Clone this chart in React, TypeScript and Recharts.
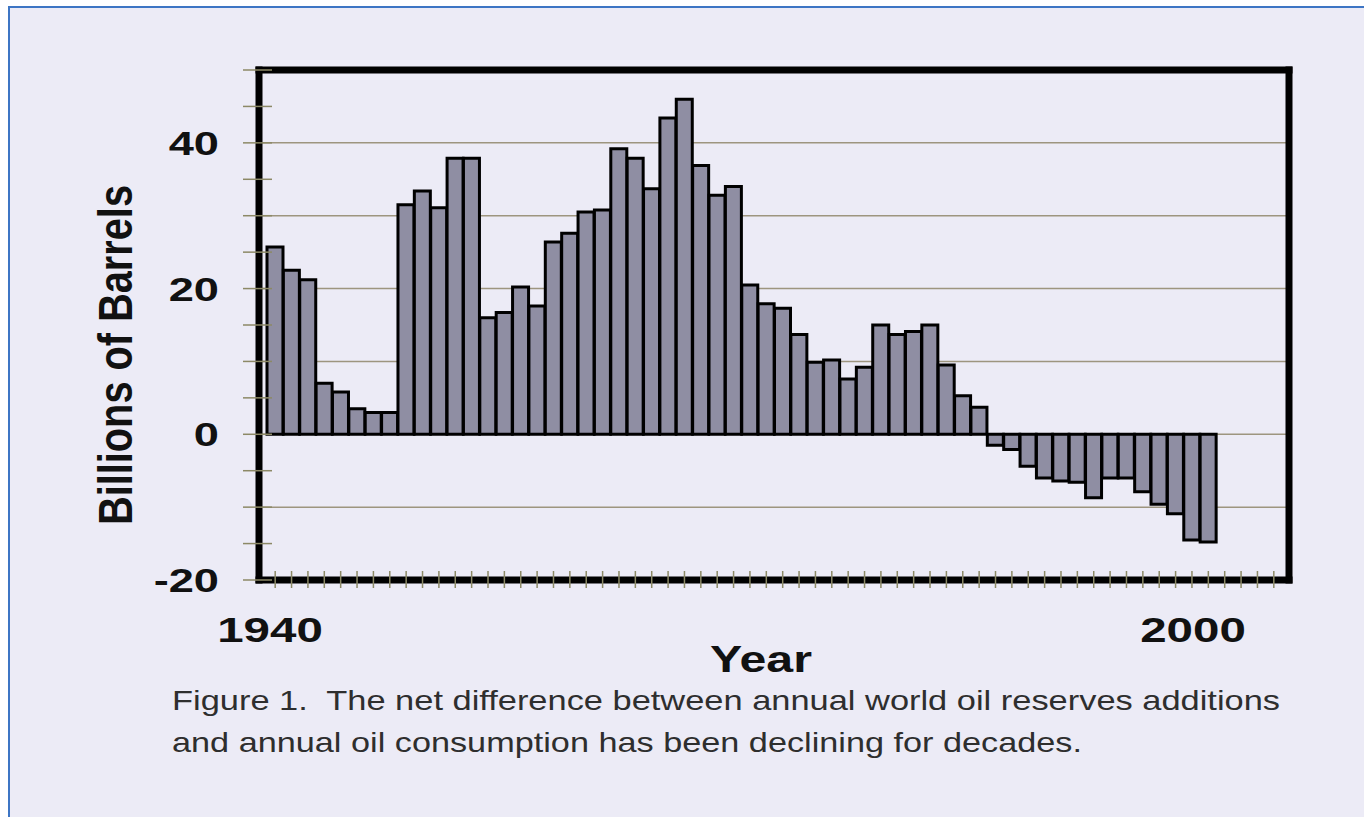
import { Bar, BarChart, CartesianGrid, Label, XAxis, YAxis } from "recharts";

const years = [
    "1940", "1941", "1942", "1943", "1944", "1945", "1946", "1947", "1948", "1949",
    "1950", "1951", "1952", "1953", "1954", "1955", "1956", "1957", "1958", "1959",
    "1960", "1961", "1962", "1963", "1964", "1965", "1966", "1967", "1968", "1969",
    "1970", "1971", "1972", "1973", "1974", "1975", "1976", "1977", "1978", "1979",
    "1980", "1981", "1982", "1983", "1984", "1985", "1986", "1987", "1988", "1989",
    "1990", "1991", "1992", "1993", "1994", "1995", "1996", "1997", "1998", "1999",
    "2000", "2001",
];

// billions of barrels, one per year from 1940 (the last slots are empty)
const netReserves = [
    25.7, 22.5, 21.2, 7.0, 5.8, 3.5, 3.0, 3.0, 31.5, 33.4,
    31.1, 37.9, 37.9, 16.0, 16.7, 20.2, 17.6, 26.4, 27.6, 30.5,
    30.8, 39.2, 37.9, 33.7, 43.4, 46.0, 36.9, 32.8, 34.0, 20.5,
    17.9, 17.3, 13.7, 9.9, 10.2, 7.6, 9.2, 15.0, 13.7, 14.1,
    15.0, 9.5, 5.3, 3.7, -1.5, -2.1, -4.4, -6.0, -6.4, -6.6,
    -8.7, -6.0, -6.0, -7.9, -9.6, -10.9, -14.5, -14.8,
];

const yTicks = [-20, -15, -10, -5, 0, 5, 10, 15, 20, 25, 30, 35, 40, 45, 50];
const yTickLabels = [-20, 0, 20, 40];
const gridValues = [-10, 0, 10, 20, 30, 40];
const yearLabels = [1940, 2000];

const data = years.map((year, i) => ({
    year,
    yearNum: Number(year),
    value: i < netReserves.length ? netReserves[i] : null,
}));

const FONT = "'Liberation Sans', Arial, sans-serif";
const TICK_COLOR = "#8c8966";
const frameLine = { stroke: "#000", strokeWidth: 7, strokeLinecap: "square" as const };

function ValueTick({ x, y, payload }: any) {
    const v = payload.value;
    return (
        <g>
            <line x1={x - 16} x2={x + 13} y1={y} y2={y} stroke={TICK_COLOR} strokeWidth={1.5} />
            {yTickLabels.includes(v) && (
                <text
                    transform={`translate(${x - 40},${y + 12}) scale(1.37,1)`}
                    textAnchor="end"
                    fontFamily={FONT}
                    fontWeight="bold"
                    fontSize={33}
                    fill="#111">
                    {v}
                </text>
            )}
        </g>
    );
}

function YearMark({ x, y }: any) {
    return <line x1={x} x2={x} y1={y - 9} y2={y + 8} stroke={TICK_COLOR} strokeWidth={1.5} />;
}

function YearLabel({ x, y, payload }: any) {
    return (
        <text
            transform={`translate(${x},${y + 42}) scale(1.32,1)`}
            textAnchor="middle"
            fontFamily={FONT}
            fontWeight="bold"
            fontSize={36}
            fill="#111">
            {payload.value}
        </text>
    );
}

function YTitle() {
    return (
        <text
            transform="translate(132,355) scale(1.25,1) rotate(-90)"
            textAnchor="middle"
            fontFamily={FONT}
            fontWeight="bold"
            fontSize={39}
            textLength={340}
            lengthAdjust="spacingAndGlyphs"
            fill="#111">
            Billions of Barrels
        </text>
    );
}

function XTitle() {
    return (
        <text
            x={710}
            y={672}
            fontFamily={FONT}
            fontWeight="bold"
            fontSize={37}
            textLength={102}
            lengthAdjust="spacingAndGlyphs"
            fill="#111">
            Year
        </text>
    );
}

export default function App() {
    return (
        <div style={{ position: "absolute", left: 0, top: 0, width: 1364, height: 817, background: "#fff" }}>
            <div
                style={{
                    position: "absolute",
                    left: 8,
                    top: 6,
                    width: 1356,
                    height: 811,
                    boxSizing: "border-box",
                    borderLeft: "2px solid #3d75c4",
                    borderTop: "2px solid #3d75c4",
                    background: "#ecebf6",
                }} />

            <div style={{ position: "absolute", left: 0, top: 0 }}>
                <BarChart
                    width={1364}
                    height={817}
                    data={data}
                    barCategoryGap={0}
                    margin={{ top: 69, right: 74, left: 199, bottom: 177 }}>
                    <CartesianGrid
                        vertical={false}
                        horizontalValues={gridValues}
                        stroke="#9d957f"
                        strokeWidth={1.5} />

                    <XAxis
                        dataKey="year"
                        height={20}
                        padding={{ left: 8, right: 7 }}
                        interval={0}
                        tickSize={0}
                        tickMargin={0}
                        tickLine={false}
                        axisLine={frameLine}
                        tick={YearMark} />
                    <XAxis
                        xAxisId="label"
                        dataKey="yearNum"
                        type="number"
                        domain={[1940, 2000]}
                        allowDataOverflow
                        ticks={yearLabels}
                        interval={0}
                        height={40}
                        padding={{ left: 11, right: 96 }}
                        tickSize={0}
                        tickMargin={0}
                        tickLine={false}
                        axisLine={false}
                        tick={YearLabel}>
                        <Label content={XTitle} />
                    </XAxis>
                    <XAxis
                        xAxisId="top"
                        orientation="top"
                        dataKey="yearNum"
                        type="number"
                        domain={[1940, 2001]}
                        height={1}
                        tick={false}
                        tickLine={false}
                        axisLine={frameLine} />

                    <YAxis
                        width={60}
                        domain={[-20, 50]}
                        ticks={yTicks}
                        interval={0}
                        allowDataOverflow
                        tickSize={0}
                        tickMargin={0}
                        tickLine={false}
                        axisLine={frameLine}
                        tick={ValueTick}>
                        <Label content={YTitle} />
                    </YAxis>
                    <YAxis
                        yAxisId="right"
                        orientation="right"
                        dataKey="value"
                        width={1}
                        domain={[-20, 50]}
                        allowDataOverflow
                        tick={false}
                        tickLine={false}
                        axisLine={frameLine} />

                    <Bar
                        dataKey="value"
                        fill="#8f8ea3"
                        stroke="#000"
                        strokeWidth={3}
                        isAnimationActive={false} />
                </BarChart>
            </div>

            <svg
                width={1364}
                height={817}
                style={{ position: "absolute", left: 0, top: 0, pointerEvents: "none" }}>
                <text
                    x={172}
                    y={710}
                    fontFamily={FONT}
                    fontSize={28}
                    fill="#2e2e2e"
                    textLength={1108}
                    lengthAdjust="spacingAndGlyphs"
                    style={{ whiteSpace: "pre" }}>
                    Figure 1.  The net difference between annual world oil reserves additions
                </text>
                <text
                    x={172}
                    y={752}
                    fontFamily={FONT}
                    fontSize={28}
                    fill="#2e2e2e"
                    textLength={910}
                    lengthAdjust="spacingAndGlyphs">
                    and annual oil consumption has been declining for decades.
                </text>
            </svg>
        </div>
    );
}
